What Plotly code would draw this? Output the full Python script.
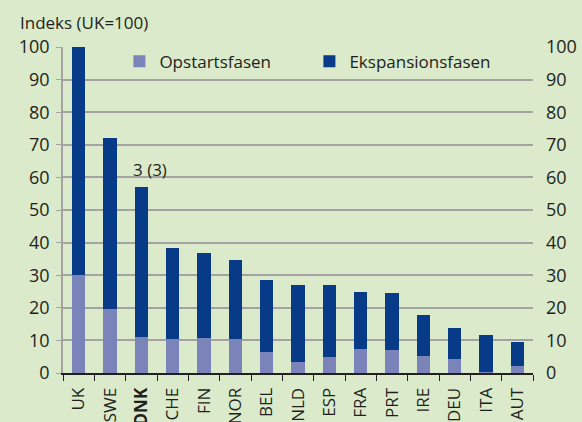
import plotly.graph_objects as go

categories = ["UK", "SWE", "DNK", "CHE", "FIN", "NOR", "BEL", "NLD", "ESP", "FRA", "PRT", "IRE", "DEU", "ITA", "AUT"]
tick_labels = ["UK", "SWE", "<b>DNK</b>", "CHE", "FIN", "NOR", "BEL", "NLD", "ESP", "FRA", "PRT", "IRE", "DEU", "ITA", "AUT"]
totals = [100, 72, 57.2, 38.2, 36.7, 34.6, 28.4, 26.9, 26.9, 24.8, 24.5, 17.7, 13.8, 11.6, 9.5]
opstart = [30, 19.6, 11.0, 10.4, 10.7, 10.4, 6.5, 3.5, 4.9, 7.3, 7.0, 5.2, 4.3, 0.2, 2.1]
ekspansion = [round(t - o, 2) for t, o in zip(totals, opstart)]

BG = "#DAEACB"
FONT = "Open Sans"
TXT = "#231F20"

fig = go.Figure()
fig.add_trace(go.Bar(x=categories, y=opstart, name="Opstartsfasen", marker_color="#7B84B8", marker_line_width=0))
fig.add_trace(go.Bar(x=categories, y=ekspansion, name="Ekspansionsfasen", marker_color="#073A87", marker_line_width=0))
# invisible trace so the right-hand axis is drawn
fig.add_trace(go.Scatter(x=categories, y=totals, yaxis="y2", mode="markers", marker_opacity=0,
                         showlegend=False, hoverinfo="skip"))

fig.add_annotation(x="DNK", y=62.4, text="3 (3)", showarrow=False, xshift=9,
                   font=dict(family=FONT, size=17, color=TXT))
fig.add_annotation(x=0, xref="paper", xanchor="left", xshift=-45, y=1, yref="paper", yanchor="middle",
                   yshift=25, text="Indeks (UK=100)", showarrow=False,
                   font=dict(family=FONT, size=17, color=TXT))

fig.update_layout(
    width=582, height=422,
    barmode="stack", bargap=0.575,
    paper_bgcolor=BG, plot_bgcolor=BG,
    margin=dict(l=63, r=49, t=47, b=49, autoexpand=False),
    font=dict(family=FONT, size=17, color=TXT),
    showlegend=True,
    legend=dict(orientation="h", x=0.12, y=1.01, xanchor="left", yanchor="top", traceorder="normal",
                bgcolor="rgba(0,0,0,0)", font=dict(family=FONT, size=17, color=TXT),
                entrywidth=145, entrywidthmode="pixels"),
    xaxis=dict(tickmode="array", tickvals=categories, ticktext=tick_labels, tickangle=-90,
               range=[-0.5, 14.5],
               showline=True, linecolor="#231F20", linewidth=2, ticks="outside", ticklen=6,
               tickcolor="#231F20", tickson="boundaries", automargin=False, ticklabelstandoff=6,
               tickfont=dict(family=FONT, size=17, color=TXT), showgrid=False),
    yaxis=dict(range=[0, 100], dtick=10, showgrid=True, gridcolor="#A3A3A3", gridwidth=1.5,
               showline=True, linecolor="#A3A3A3", linewidth=1.5, ticks="outside", ticklen=5,
               tickcolor="#A3A3A3", zeroline=False, automargin=False, ticklabelstandoff=3,
               tickfont=dict(family=FONT, size=18, color=TXT)),
    yaxis2=dict(range=[0, 100], dtick=10, overlaying="y", side="right", showgrid=False,
                showline=False, ticks="", zeroline=False, automargin=False, ticklabelstandoff=12,
                tickfont=dict(family=FONT, size=18, color=TXT)),
)

fig.write_html("out.html", config={"displayModeBar": False},
               post_script="document.body.style.margin='0';document.body.style.padding='0';")
